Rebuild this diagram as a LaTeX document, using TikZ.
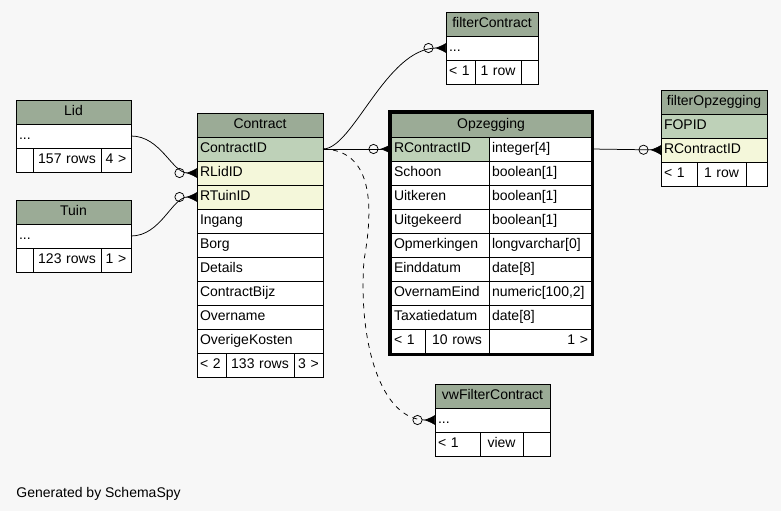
\documentclass[tikz,border=0pt]{standalone}
\usepackage{fontspec}
\setmainfont{Liberation Sans}
\usetikzlibrary{positioning,arrows.meta,fit}
\definecolor{hdrgreen}{HTML}{9BAB96}
\definecolor{keygreen}{HTML}{BED1B8}
\definecolor{fkyellow}{HTML}{F4F7DA}
\definecolor{canvas}{HTML}{F7F7F7}
\tikzset{%
cell/.style={draw,fill=white,text width=#1-6pt,inner xsep=3pt,inner ysep=0pt,minimum height=24pt,text height=10pt,text depth=3pt,outer sep=0pt,align=left},
hdr/.style={cell=#1,fill=hdrgreen,align=center},
keycell/.style={cell=#1,fill=keygreen},
fkcell/.style={cell=#1,fill=fkyellow},
foot/.style={cell=#1,align=center},
fkedge/.style={line width=0.75pt,-{Circle[open,length=10pt,width=10pt,sep=1.5pt]Latex[reversed,length=11pt,width=10pt]}},
implied/.style={fkedge,dash pattern=on 5pt off 5pt},
focus/.style={draw,line width=3pt,inner sep=1.5pt}
}

\begin{document}
\begin{tikzpicture}[x=1pt,y=-1pt,line width=0.9pt,font=\fontsize{14}{16}\selectfont]

    \fill[canvas] (0,0) rectangle (781,511);
    \useasboundingbox (0,0) rectangle (781,511);

    % Lid
    \node[hdr=115pt,anchor=north west] (lid-h) at (16,100) {Lid};
    \node[cell=115pt,below=0pt of lid-h] (lid-r) {...};
    \node[cell=17pt,anchor=north west] (lid-f1) at (lid-r.south west) {};
    \node[foot=68pt,right=0pt of lid-f1] (lid-f2) {157 rows};
    \node[foot=30pt,right=0pt of lid-f2] (lid-f3) {4 >};

    % Tuin
    \node[hdr=115pt,anchor=north west] (tuin-h) at (16,200) {Tuin};
    \node[cell=115pt,below=0pt of tuin-h] (tuin-r) {...};
    \node[cell=17pt,anchor=north west] (tuin-f1) at (tuin-r.south west) {};
    \node[foot=68pt,right=0pt of tuin-f1] (tuin-f2) {123 rows};
    \node[foot=30pt,right=0pt of tuin-f2] (tuin-f3) {1 >};

    % Contract
    \node[hdr=126pt,anchor=north west] (c-h) at (197,113) {Contract};
    \node[keycell=126pt,below=0pt of c-h] (c-ContractID) {ContractID};
    \node[fkcell=126pt,below=0pt of c-ContractID] (c-RLidID) {RLidID};
    \node[fkcell=126pt,below=0pt of c-RLidID] (c-RTuinID) {RTuinID};
    \foreach \nm [remember=\nm as \prev (initially RTuinID)] in
        {Ingang,Borg,Details,ContractBijz,Overname,OverigeKosten}
      \node[cell=126pt,below=0pt of c-\prev] (c-\nm) {\nm};
    \node[cell=29pt,anchor=north west] (c-f1) at (c-OverigeKosten.south west) {< 2};
    \node[foot=68pt,right=0pt of c-f1] (c-f2) {133 rows};
    \node[foot=29pt,right=0pt of c-f2] (c-f3) {3 >};

    % Opzegging
    \node[hdr=200pt,anchor=north west] (o-h) at (391,113) {Opzegging};
    \node[keycell=98pt,anchor=north west] (o-n1) at (o-h.south west) {RContractID};
    \node[cell=102pt,right=0pt of o-n1] (o-t1) {integer[4]};
    \foreach \nm/\ty [count=\i from 2,remember=\i as \j (initially 1)] in
        {Schoon/boolean[1],Uitkeren/boolean[1],Uitgekeerd/boolean[1],
         Opmerkingen/longvarchar[0],Einddatum/date[8],
         OvernamEind/{numeric[100,2]},Taxatiedatum/date[8]}{
      \node[cell=98pt,below=0pt of o-n\j] (o-n\i) {\nm};
      \node[cell=102pt,right=0pt of o-n\i] (o-t\i) {\ty};
    }
    \node[cell=34pt,anchor=north west] (o-f1) at (o-n8.south west) {< 1};
    \node[foot=64pt,right=0pt of o-f1] (o-f2) {10 rows};
    \node[cell=102pt,align=right,right=0pt of o-f2] (o-f3) {1 >};
    \node[focus,fit=(o-h)(o-f3)] (o-frame) {};

    % filterContract
    \node[hdr=92pt,anchor=north west] (fc-h) at (446,12) {filterContract};
    \node[cell=92pt,below=0pt of fc-h] (fc-r) {...};
    \node[cell=29pt,anchor=north west] (fc-f1) at (fc-r.south west) {< 1};
    \node[foot=46pt,right=0pt of fc-f1] (fc-f2) {1 row};
    \node[foot=17pt,right=0pt of fc-f2] (fc-f3) {};

    % filterOpzegging
    \node[hdr=106pt,anchor=north west] (fo-h) at (661,90) {filterOpzegging};
    \node[keycell=106pt,below=0pt of fo-h] (fo-FOPID) {FOPID};
    \node[fkcell=106pt,below=0pt of fo-FOPID] (fo-RContractID) {RContractID};
    \node[cell=36pt,anchor=north west] (fo-f1) at (fo-RContractID.south west) {< 1};
    \node[foot=49pt,right=0pt of fo-f1] (fo-f2) {1 row};
    \node[foot=21pt,right=0pt of fo-f2] (fo-f3) {};

    % vwFilterContract
    \node[hdr=115pt,anchor=north west] (vw-h) at (435,384) {vwFilterContract};
    \node[cell=115pt,below=0pt of vw-h] (vw-r) {...};
    \node[cell=45pt,anchor=north west] (vw-f1) at (vw-r.south west) {< 1};
    \node[foot=43pt,right=0pt of vw-f1] (vw-f2) {view};
    \node[foot=27pt,right=0pt of vw-f2] (vw-f3) {};

    % relations
    \draw[fkedge] (lid-r.east) .. controls +(30,0) and +(-25,0) .. (c-RLidID.west);
    \draw[fkedge] (tuin-r.east) .. controls +(30,0) and +(-25,0) .. (c-RTuinID.west);
    \draw[fkedge] (c-ContractID.east) -- (o-n1.west);
    \draw[fkedge] (c-ContractID.east) .. controls +(30,0) and +(-60,0) .. (fc-r.west);
    \draw[implied] (c-ContractID.east) .. controls (370,150) and (375,200) .. (364,260)
                   .. controls (358,340) and (380,420) .. (vw-r.west);
    \draw[fkedge] (o-t1.east) -- (fo-RContractID.west);

    \node[anchor=base west,inner sep=0pt] (credit) at (16,497) {Generated by SchemaSpy};

  \end{tikzpicture}
\end{document}
